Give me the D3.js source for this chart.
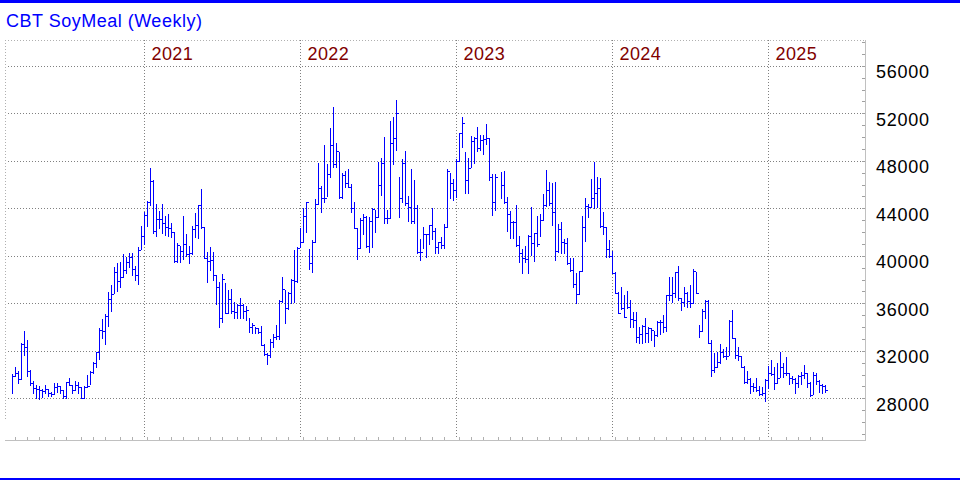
<!DOCTYPE html>
<html>
<head>
<meta charset="utf-8">
<script src="https://cdn.jsdelivr.net/npm/d3@7"></script>
<style>
  html, body { margin: 0; padding: 0; background: #fff; }
  svg { display: block; font-family: "Liberation Sans", Arial, sans-serif; }
</style>
</head>
<body>
<svg id="chart" width="960" height="480"></svg>
<script>
// ---- Data (weekly bars, Fridays from 2020-02-28) ----
const title = "CBT SoyMeal (Weekly)";
const yTickValues = [28000, 32000, 36000, 40000, 44000, 48000, 52000, 56000];

const high = [
30020,30610,30300,32630,33670,32910,30390,29460,29100,29040,
28760,29100,28760,28560,29260,29260,29040,28700,29400,29680,
29100,29460,29400,28930,29040,29960,30300,31090,31930,33900,
34650,35070,36930,37540,39030,39370,39510,40150,39930,40210,
40210,39140,40770,42510,43720,44650,47370,46390,44370,43780,
44370,43350,43520,42740,42040,41050,40830,43350,41840,40830,
42510,43640,44280,45630,42460,40300,40720,40300,38390,37830,
38470,37740,37120,37210,36140,35940,36420,35940,35780,34740,
34320,34040,33900,34090,32580,31850,33030,33420,34180,36280,
38250,37120,36930,38050,40490,40720,42320,44000,44510,40580,
41330,44760,47850,45880,49330,47730,50740,52560,49530,48770,
46950,47170,47280,46050,44560,42320,43160,43520,43350,43300,
44000,43860,47930,48210,50040,43860,51380,51660,53120,46670,
48150,48830,45040,47310,46390,44280,41420,42460,41840,42600,
44060,42320,41190,41610,42680,47280,46950,46440,48150,50370,
51660,48770,48210,50090,49980,50880,50180,50180,51100,49950,
46860,46860,null,47030,47140,44930,43780,42930,44280,41670,
40550,40830,41750,44080,41900,43350,43500,45210,47230,46190,
46110,46190,42680,42820,41390,41470,39790,39790,38530,38750,
43350,44840,44370,46440,47930,46670,46580,43720,42400,41330,
40440,38610,36930,37350,36700,37070,36280,35240,35240,33980,
34180,34740,33980,33900,33700,34540,34600,35020,36700,38250,
38190,38670,39140,36420,37350,36930,37540,38860,38670,34180,
35500,36280,36280,32910,31790,31870,32580,32130,32350,34600,
35440,33050,32350,31570,30720,30330,29740,29320,29740,29040,
28930,29600,30720,31230,30610,30950,31930,30950,31450,30160,
29880,29680,29960,30250,30810,30110,29400,30190,30110,29540,
29210,29120
];

const low = [
28480,29850,29260,29600,31650,29910,29100,28480,28060,27920,
28140,28420,28200,28200,28340,28560,28480,28000,28000,29100,
28420,28700,28480,28000,28000,28930,29210,30110,30670,31280,
33050,32580,34090,35380,36840,37070,37350,38250,38530,39030,
38390,37970,37630,40550,41000,42540,44280,41950,41700,42320,
41900,41750,41670,41610,39510,39510,39510,39710,40010,39430,
40150,41560,41530,42320,39790,37830,38810,37970,35920,33980,
34400,35210,35210,35160,34740,34740,34740,34740,34600,33610,
33470,33470,33470,32490,31650,30860,31510,32300,32970,32970,
36140,34370,35500,36060,36140,37830,40720,41190,42040,38860,
38670,41190,44370,43720,44560,45040,46670,47450,47450,44840,
44840,45830,45770,43720,42320,39710,40630,41810,40770,40350,
40770,42040,43300,45120,42790,42790,43160,47710,48910,43240,
44560,44280,42960,42740,42790,40210,39650,40630,39870,41000,
41390,40270,40210,40630,40630,42400,44840,44700,44930,47990,
49190,45260,45260,47450,47850,48830,48910,48550,49390,46390,
43440,43860,null,44900,44420,42120,41470,41470,40860,39510,
38580,39510,38580,40070,39590,40860,41670,43020,44200,44280,
42600,39650,40350,40270,40270,39310,38750,37400,36000,36760,
38750,41280,43300,44080,44000,44140,42460,41840,39870,39930,
38530,36840,35160,35500,34820,35580,34040,33980,32770,32630,
32630,32770,32770,32910,32440,33280,33420,33610,33700,36280,
36140,36560,36280,35440,35780,35720,35660,36000,36840,33190,
33700,34740,32630,29910,30250,30670,31000,31450,31280,31650,
33050,31370,31230,30610,29320,29260,28480,28650,28650,28280,
28280,27800,28840,29960,28760,29320,29830,29770,29960,29210,
29260,28420,28930,29210,29680,28930,28200,28340,29210,28560,
28480,28560
];

const close = [
29850,30110,29600,32580,32300,30300,29320,28840,28760,28700,
28650,28760,28420,28340,28980,29040,28700,28200,29400,29120,
28700,29100,28930,28000,28980,29040,30250,31000,31870,33750,
33670,34930,36340,36790,38610,37880,38190,38810,39450,39870,
38860,38390,40490,41670,43440,44560,46330,42120,43070,43070,
42740,42460,42320,42040,39590,40910,40410,41000,40150,40210,
42230,42600,44280,42400,39790,39570,39650,38390,37350,34740,
38020,35210,36370,35380,35300,35830,35830,35380,35440,34040,
34180,33900,33610,32490,31730,31650,32720,33190,33250,36230,
37210,35580,36840,37970,37910,40630,41140,43350,44510,39370,
41190,44370,45680,44840,44840,46860,49330,47730,48830,44980,
46810,46110,45830,44000,42320,40630,43020,43300,40830,42930,
43920,43300,45970,47790,43160,43210,49530,49900,52000,44840,
47790,44420,44140,42930,44000,40300,40350,41840,41840,42600,
42120,40720,41140,40910,42460,47170,46110,45540,47990,50320,
51210,46390,47370,49670,49950,49050,49750,49810,49900,46610,
44510,46610,null,45970,44510,43520,42880,42820,40910,40210,
39790,39710,41700,41050,41900,40970,43020,44280,45540,44420,
43660,40410,42230,41190,41110,39370,38810,37630,36760,38750,
42460,44230,44140,44900,45320,45680,42510,42400,40550,39990,
38580,36900,35160,35640,34880,35660,34650,34600,33140,33420,
34120,33470,33900,33750,33330,34400,34400,34040,36700,36700,
36840,38610,36420,36140,36840,36200,36060,38750,36900,33700,
35380,36230,32630,30390,30610,31090,31930,31590,31570,34540,
33050,31650,31570,30670,29400,29600,29040,28930,28700,28370,
28420,29540,30110,30020,29260,29680,30610,30110,30110,29680,
29600,29260,29880,29960,30110,29320,28280,29960,29490,29120,
29040,28700
];

// ---- Layout ----
const W = 960, H = 480;
const plot = { left: 5, right: 866, top: 40, bottom: 440 };
const n = high.length;

// Weekly dates (bar dated by last trading day of week)
const fridays = d3.utcFriday.range(new Date(Date.UTC(2020, 1, 28)), new Date(Date.UTC(2025, 5, 1))).slice(0, n);
const dates = fridays.map(d => (d.getUTCMonth() === 0 && d.getUTCDate() === 1) ? d3.utcDay.offset(d, -1) : d);

const x = d3.scalePoint().domain(d3.range(n)).range([12, 12 + 3 * (n - 1)]);
const y = d3.scaleLinear().domain([28000, 56000]).range([398.3, 65.8]);

const svg = d3.select("#chart");

svg.append("rect").attr("width", W).attr("height", H).attr("fill", "#fff");

// blue bands top & bottom
svg.append("rect").attr("x", 0).attr("y", 0).attr("width", W).attr("height", 3).attr("fill", "#0000ff");
svg.append("rect").attr("x", 0).attr("y", 478).attr("width", W).attr("height", 2).attr("fill", "#0000ff");

// title
svg.append("text").attr("x", 6).attr("y", 27)
  .attr("font-size", 18).attr("letter-spacing", 0.5).attr("fill", "#0000ff").text(title);

const g = svg.append("g").attr("shape-rendering", "crispEdges");

// plot frame: dotted top and left
g.append("line").attr("x1", plot.left).attr("x2", plot.right).attr("y1", plot.top + 0.5).attr("y2", plot.top + 0.5)
  .attr("stroke", "#b0b0b0").attr("stroke-dasharray", "1,2");
g.append("line").attr("x1", plot.left + 0.5).attr("x2", plot.left + 0.5).attr("y1", plot.top).attr("y2", 420)
  .attr("stroke", "#b0b0b0").attr("stroke-dasharray", "1,2");

// horizontal grid
g.selectAll("line.hgrid").data(yTickValues).join("line").attr("class", "hgrid")
  .attr("x1", 8).attr("x2", 862)
  .attr("y1", d => Math.round(y(d)) + 0.5).attr("y2", d => Math.round(y(d)) + 0.5)
  .attr("stroke", "#808080").attr("stroke-dasharray", "1,2");

// year boundaries (last bar of each year)
const yearEnds = d3.range(n - 1).filter(i => dates[i].getUTCFullYear() !== dates[i + 1].getUTCFullYear());
g.selectAll("line.ygrid").data(yearEnds).join("line").attr("class", "ygrid")
  .attr("x1", i => x(i) + 0.5).attr("x2", i => x(i) + 0.5)
  .attr("y1", plot.top).attr("y2", 437)
  .attr("stroke", "#808080").attr("stroke-dasharray", "1,2");

svg.selectAll("text.year").data(yearEnds).join("text").attr("class", "year")
  .attr("x", i => x(i) + 7.5).attr("y", 60)
  .attr("font-size", 18).attr("letter-spacing", 0.4).attr("fill", "#800000")
  .text(i => dates[i + 1].getUTCFullYear());

// bottom axis & month ticks
g.append("line").attr("x1", plot.left).attr("x2", plot.right).attr("y1", plot.bottom + 0.5).attr("y2", plot.bottom + 0.5)
  .attr("stroke", "#c0c0c0");
const monthStarts = d3.range(1, n).filter(i => dates[i].getUTCMonth() !== dates[i - 1].getUTCMonth());
g.selectAll("line.mtick").data(monthStarts).join("line").attr("class", "mtick")
  .attr("x1", i => x(i) + 0.5).attr("x2", i => x(i) + 0.5)
  .attr("y1", 437).attr("y2", plot.bottom)
  .attr("stroke", "#b0b0b0");

// right axis
g.append("line").attr("x1", plot.right - 0.5).attr("x2", plot.right - 0.5).attr("y1", plot.top).attr("y2", plot.bottom + 1)
  .attr("stroke", "#c0c0c0");
const minorTicks = d3.range(25000, 58001, 1000).filter(v => y(v) > plot.top + 2 && y(v) < plot.bottom - 2);
g.selectAll("line.rtick").data(minorTicks).join("line").attr("class", "rtick")
  .attr("x1", plot.right - 4).attr("x2", plot.right - 1)
  .attr("y1", d => Math.round(y(d)) + 0.5).attr("y2", d => Math.round(y(d)) + 0.5)
  .attr("stroke", "#a0a0a0");

svg.selectAll("text.ylab").data(yTickValues).join("text").attr("class", "ylab")
  .attr("x", 876).attr("y", d => y(d) + 12.5)
  .attr("font-size", 18).attr("letter-spacing", 0.75).attr("fill", "#000")
  .text(d => d);

// HLC bars
const bars = d3.range(n).filter(i => high[i] != null);
const bg = svg.append("g").attr("shape-rendering", "crispEdges").attr("stroke", "#0000ff").attr("stroke-width", 1);
bg.selectAll("line.hl").data(bars).join("line").attr("class", "hl")
  .attr("x1", i => x(i) + 0.5).attr("x2", i => x(i) + 0.5)
  .attr("y1", i => Math.round(y(high[i]))).attr("y2", i => Math.round(y(low[i])) + 1);
bg.selectAll("line.cl").data(bars).join("line").attr("class", "cl")
  .attr("x1", i => x(i) + 0.5).attr("x2", i => x(i) + 3)
  .attr("y1", i => Math.round(y(close[i])) + 0.5).attr("y2", i => Math.round(y(close[i])) + 0.5);
</script>
</body>
</html>
